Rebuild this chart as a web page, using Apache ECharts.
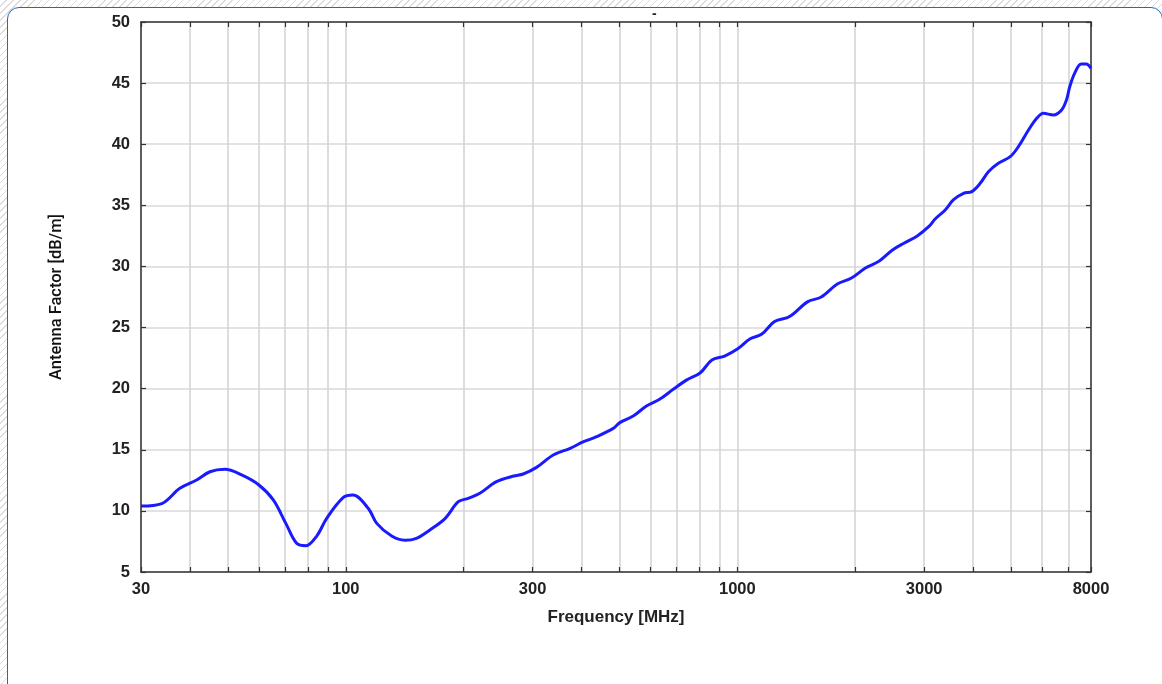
<!DOCTYPE html>
<html>
<head>
<meta charset="utf-8">
<script src="https://cdn.jsdelivr.net/npm/echarts@6/dist/echarts.min.js"></script>
<style>
html,body{margin:0;padding:0;width:1162px;height:684px;overflow:hidden;}
body{background:repeating-linear-gradient(135deg,#ffffff 0px,#ffffff 4px,#dcdcdc 4px,#dcdcdc 5px);position:relative;}
#frame{position:absolute;left:7px;top:7px;width:1154px;height:720px;border:1.5px solid #1f6db8;border-radius:12px;background:#fff;}
#chart{position:absolute;left:0;top:0;width:1162px;height:684px;}
</style>
</head>
<body>
<div id="frame"></div>
<div id="chart"></div>
<script>
const freqMHz = [30,33.9,37.7,41.6,45,49.1,54.2,60,65.3,70.3,74.9,79.1,84.3,89.4,98.6,104.3,114.2,120,131,141.6,151.5,164,179.5,193.8,205.5,220,242.6,268.5,284,307,338.7,374,405,437,482,501,542,586,633,686,741,803,861,928,1000,1076,1155,1245,1360,1510,1638,1800,1956,2123,2304,2490,2670,2880,3090,3195,3390,3560,3780,3970,4170,4377,4640,4975,5220,5540,5815,6045,6410,6730,6925,7060,7265,7550,7780,8000];
const antennaFactor = [10.4,10.6,11.85,12.53,13.2,13.4,12.94,12.12,10.9,8.98,7.35,7.15,7.94,9.39,11.1,11.3,10.2,8.98,7.94,7.6,7.76,8.44,9.39,10.75,11.03,11.44,12.39,12.85,13.02,13.56,14.57,15.12,15.66,16.07,16.75,17.22,17.76,18.58,19.13,19.95,20.7,21.28,22.34,22.67,23.24,24.06,24.47,25.5,25.9,27.1,27.5,28.56,29.05,29.87,30.44,31.35,31.92,32.5,33.3,33.86,34.6,35.44,35.98,36.12,36.8,37.75,38.44,38.98,39.8,41.16,42.12,42.53,42.39,42.8,43.62,44.7,45.8,46.56,46.56,46.2];
const xGridTicks = [30,40,50,60,70,80,90,100,200,300,400,500,600,700,800,900,1000,2000,3000,4000,5000,6000,7000,8000];
const xTickLabels = [30,100,300,1000,3000,8000];
const yTicks = [5,10,15,20,25,30,35,40,45,50];

const chart = echarts.init(document.getElementById('chart'), null, {renderer:'canvas'});
const FONT = 'Liberation Sans, Arial, sans-serif';
const labelStyle = {color:'#222', fontWeight:'bold', fontSize:16.5, fontFamily:FONT};
const axisLineStyle = {show:true, lineStyle:{color:'#333', width:1.5}};
chart.setOption({
  animation:false,
  backgroundColor:'transparent',
  title:{text:'-', left:647, top:2, textStyle:{fontSize:14, fontWeight:'bold', color:'#222', fontFamily:FONT}},
  grid:{left:141, right:71, top:22, bottom:112, containLabel:false},
  xAxis:[{
    type:'log', logBase:10, min:30, max:8000, position:'bottom',
    name:'Frequency [MHz]', nameLocation:'middle', nameGap:37,
    nameTextStyle:{color:'#222', fontWeight:'bold', fontSize:17, fontFamily:FONT},
    axisLine:axisLineStyle,
    axisTick:{show:true, inside:true, length:5, customValues:xGridTicks, lineStyle:{color:'#333', width:1.2}},
    axisLabel:Object.assign({margin:9, customValues:xTickLabels, showMinLabel:true, showMaxLabel:true, formatter:v=>String(v)}, labelStyle),
    splitLine:{show:true, lineStyle:{color:'#d2d2d2', width:1.5}},
    minorTick:{show:false}, minorSplitLine:{show:false}
  },{
    type:'log', logBase:10, min:30, max:8000, position:'top',
    axisLine:axisLineStyle,
    axisTick:{show:true, inside:true, length:5, customValues:xGridTicks, lineStyle:{color:'#333', width:1.2}},
    axisLabel:{show:false, customValues:xTickLabels},
    splitLine:{show:false}
  }],
  yAxis:[{
    type:'value', min:5, max:50, interval:5, position:'left',
    name:'Antenna Factor [dB/m]', nameLocation:'middle', nameGap:76, nameRotate:90,
    nameTextStyle:{color:'#111', fontSize:16.5, fontWeight:500, fontFamily:'Roboto, Liberation Sans, Arial, sans-serif'},
    axisLine:axisLineStyle,
    axisTick:{show:true, inside:true, length:5, lineStyle:{color:'#333', width:1.2}},
    axisLabel:Object.assign({margin:11, formatter:v=>String(v)}, labelStyle),
    splitLine:{show:true, lineStyle:{color:'#d8d8d8', width:1.5}}
  },{
    type:'value', min:5, max:50, interval:5, position:'right',
    axisLine:axisLineStyle,
    axisTick:{show:true, inside:true, length:5, lineStyle:{color:'#333', width:1.2}},
    axisLabel:{show:false},
    splitLine:{show:false}
  }],
  series:[{
    type:'line', xAxisIndex:0, yAxisIndex:0,
    data:freqMHz.map((f,i)=>[f, antennaFactor[i]]),
    showSymbol:false, smooth:0.35,
    lineStyle:{color:'#1a1aff', width:3},
    z:5
  }]
});
</script>
</body>
</html>
